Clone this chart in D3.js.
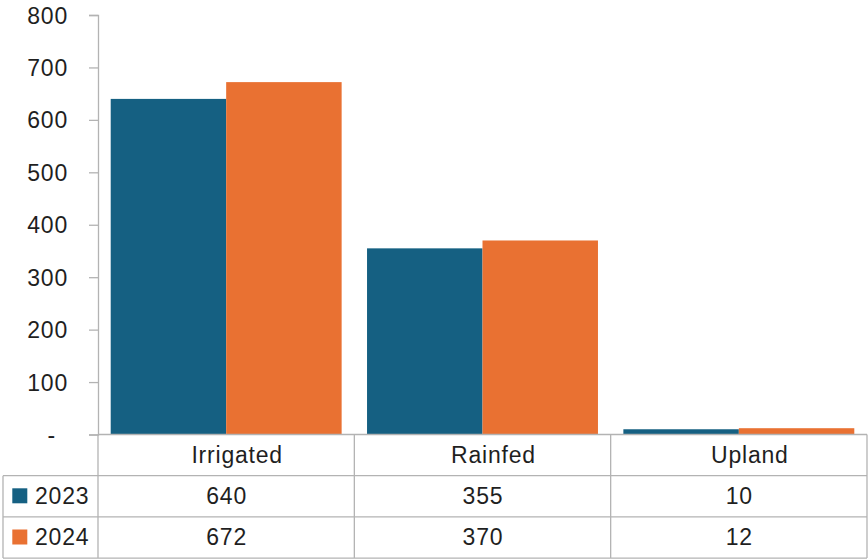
<!DOCTYPE html>
<html>
<head>
<meta charset="utf-8">
<script src="https://cdn.jsdelivr.net/npm/d3@7"></script>
<style>
  html, body { margin: 0; padding: 0; background: #fff; }
  svg { display: block; }
  text { font-family: "Liberation Sans", Arial, sans-serif; fill: #1f1f1f; letter-spacing: 0.8px; }
</style>
</head>
<body>
<svg id="chart" width="868" height="560"></svg>
<script>
const categories = ["Irrigated", "Rainfed", "Upland"];
const seriesNames = ["2023", "2024"];
const values2023 = [640, 355, 10];
const values2024 = [672, 370, 12];
const yTicks = [0, 100, 200, 300, 400, 500, 600, 700, 800];
const colors = ["#156082", "#E97132"];

(function () {
const seriesValues = [values2023, values2024];
const svg = d3.select("#chart");
const fontFamily = '"Liberation Sans", Arial, sans-serif';

const plotLeft = 98, plotRight = 867, plotTop = 15, plotBottom = 434.5;
const rowH = 41.2;
const tableTop = plotBottom;
const catRowBottom = 475.7;

const x = d3.scaleBand().domain(categories).range([plotLeft, plotRight]).paddingInner(0).paddingOuter(0);
const xs = d3.scaleBand().domain(seriesNames).range([0, x.bandwidth()]).paddingInner(0).paddingOuter(0.11);
const y = d3.scaleLinear().domain([0, 800]).range([plotBottom, plotTop]);

const lineColor = "#b3b3b3";
const fontSize = 23;

// bars
const groups = svg.append("g").selectAll("g").data(categories).join("g")
  .attr("transform", d => `translate(${x(d)},0)`);
groups.selectAll("rect")
  .data((c, i) => seriesNames.map((s, j) => ({ s, v: seriesValues[j][i], j })))
  .join("rect")
  .attr("x", d => xs(d.s))
  .attr("width", xs.bandwidth())
  .attr("y", d => y(d.v))
  .attr("height", d => y(0) - y(d.v))
  .attr("fill", d => colors[d.j]);

// y axis
const yAxis = d3.axisLeft(y).tickValues(yTicks).tickSize(9).tickPadding(21)
  .tickFormat(d => d === 0 ? "-" : d3.format("d")(d));
const ag = svg.append("g").attr("transform", `translate(${plotLeft},0)`).call(yAxis);
ag.select(".domain").attr("stroke", lineColor).attr("stroke-width", 1.3);
ag.selectAll(".tick line").attr("stroke", lineColor).attr("stroke-width", 1.3);
ag.selectAll(".tick text").attr("font-size", fontSize).attr("fill", "#1f1f1f")
  .attr("font-family", fontFamily).attr("dy", "0.35em");
ag.selectAll(".tick text").filter(d => d === 0).attr("dx", -12);

// baseline
svg.append("line").attr("x1", plotLeft).attr("x2", plotRight).attr("y1", y(0)).attr("y2", y(0))
  .attr("stroke", lineColor).attr("stroke-width", 1.3);

// data table
const tg = svg.append("g");
const rowYs = [catRowBottom, catRowBottom + rowH, catRowBottom + 2 * rowH];
rowYs.forEach(ry => {
  tg.append("line").attr("x1", 3).attr("x2", plotRight).attr("y1", ry).attr("y2", ry)
    .attr("stroke", lineColor).attr("stroke-width", 1.3);
});
tg.append("line").attr("x1", 3).attr("x2", 3).attr("y1", catRowBottom).attr("y2", rowYs[2])
  .attr("stroke", lineColor).attr("stroke-width", 1.3);
tg.append("line").attr("x1", plotLeft).attr("x2", plotLeft).attr("y1", tableTop).attr("y2", rowYs[2])
  .attr("stroke", lineColor).attr("stroke-width", 1.3);
categories.forEach(c => {
  tg.append("line").attr("x1", x(c) + x.bandwidth()).attr("x2", x(c) + x.bandwidth())
    .attr("y1", tableTop).attr("y2", rowYs[2])
    .attr("stroke", lineColor).attr("stroke-width", 1.3);
});

// category labels
tg.selectAll("text.cat").data(categories).join("text").attr("class", "cat")
  .attr("x", d => x(d) + x.bandwidth() / 2 + 11)
  .attr("y", (tableTop + catRowBottom) / 2 + 8.3)
  .attr("text-anchor", "middle")
  .attr("font-size", fontSize)
  .text(d => d);

// series rows
seriesNames.forEach((s, j) => {
  const cy = catRowBottom + rowH * j + rowH / 2;
  tg.append("rect").attr("x", 12.3).attr("y", cy - 8).attr("width", 15).attr("height", 15)
    .attr("fill", colors[j]);
  tg.append("text").attr("x", 35).attr("y", cy + 7.3)
    .attr("font-size", fontSize).text(s);
  tg.selectAll(null).data(categories).join("text")
    .attr("x", d => x(d) + x.bandwidth() / 2 + 0.5)
    .attr("y", cy + 7.3)
    .attr("text-anchor", "middle")
    .attr("font-size", fontSize)
    .text((d, i) => seriesValues[j][i]);
});
})();
</script>
</body>
</html>
